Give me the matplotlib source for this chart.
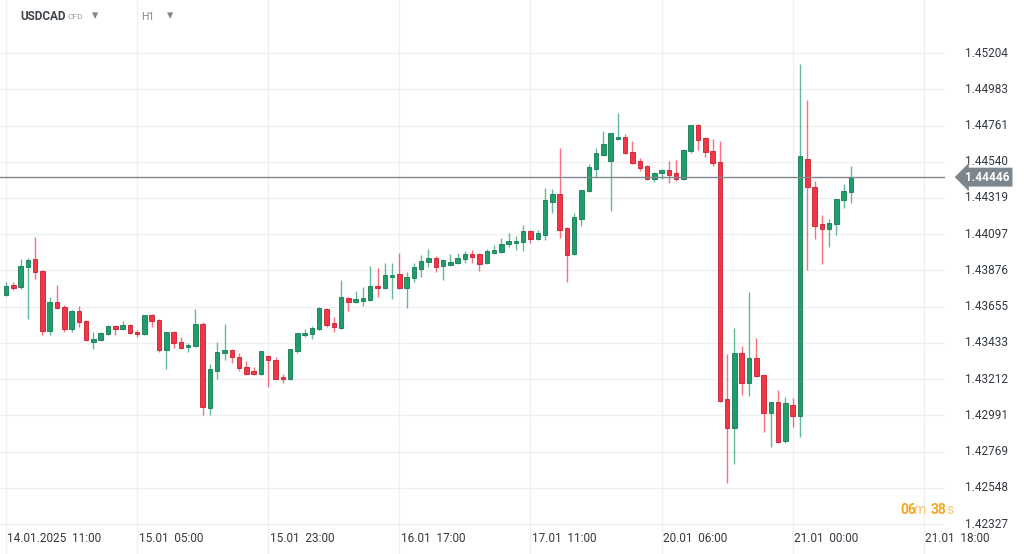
import matplotlib.pyplot as plt
import numpy as np

# hourly USDCAD candles, 14.01.2025 11:00 onward
opens = [1.43725, 1.43787, 1.43775, 1.43897, 1.43945, 1.43872, 1.43506, 1.43683, 1.43652, 1.43518,
         1.43628, 1.43567, 1.43438, 1.43451, 1.43487, 1.43536, 1.43518, 1.43542, 1.43500, 1.43487,
         1.43603, 1.43573, 1.43390, 1.43500, 1.43438, 1.43408, 1.43414, 1.43548, 1.43035, 1.43261,
         1.43371, 1.43390, 1.43347, 1.43286, 1.43261, 1.43243, 1.43353, 1.43328, 1.43224, 1.43212,
         1.43383, 1.43481, 1.43487, 1.43518, 1.43640, 1.43555, 1.43524, 1.43707, 1.43683, 1.43689,
         1.43695, 1.43781, 1.43768, 1.43836, 1.43854, 1.43768, 1.43830, 1.43884, 1.43927, 1.43952,
         1.43903, 1.43909, 1.43921, 1.43945, 1.43976, 1.43976, 1.43921, 1.43982, 1.43988, 1.44037,
         1.44043, 1.44049, 1.44116, 1.44068, 1.44092, 1.44294, 1.44343, 1.44135, 1.43976, 1.44190,
         1.44361, 1.44495, 1.44581, 1.44544, 1.44679, 1.44691, 1.44599, 1.44544, 1.44514, 1.44434,
         1.44471, 1.44489, 1.44471, 1.44434, 1.44605, 1.44764, 1.44685, 1.44605, 1.44538, 1.43090,
         1.42913, 1.43371, 1.43188, 1.43341, 1.43237, 1.43004, 1.43072, 1.42833, 1.43053, 1.42986,
         1.44556, 1.44385, 1.44159, 1.44129, 1.44159, 1.44306, 1.44355]
highs = [1.43805, 1.43805, 1.43945, 1.43951, 1.44080, 1.43878, 1.43713, 1.43787, 1.43665, 1.43634,
         1.43658, 1.43573, 1.43500, 1.43500, 1.43542, 1.43542, 1.43567, 1.43548, 1.43512, 1.43603,
         1.43610, 1.43579, 1.43500, 1.43506, 1.43469, 1.43432, 1.43640, 1.43561, 1.43304, 1.43438,
         1.43548, 1.43396, 1.43371, 1.43322, 1.43286, 1.43383, 1.43359, 1.43347, 1.43243, 1.43396,
         1.43493, 1.43518, 1.43536, 1.43652, 1.43646, 1.43591, 1.43817, 1.43713, 1.43750, 1.43775,
         1.43903, 1.43891, 1.43921, 1.43921, 1.43982, 1.43866, 1.43921, 1.43970, 1.44006, 1.43964,
         1.43945, 1.43976, 1.43982, 1.43994, 1.44000, 1.43982, 1.44006, 1.44031, 1.44074, 1.44104,
         1.44086, 1.44153, 1.44122, 1.44123, 1.44379, 1.44373, 1.44624, 1.44141, 1.44227, 1.44367,
         1.44526, 1.44624, 1.44728, 1.44715, 1.44838, 1.44709, 1.44666, 1.44563, 1.44520, 1.44477,
         1.44495, 1.44544, 1.44550, 1.44618, 1.44764, 1.44770, 1.44691, 1.44679, 1.44666, 1.43365,
         1.43524, 1.43414, 1.43744, 1.43463, 1.43243, 1.43072, 1.43145, 1.43102, 1.43096, 1.45137,
         1.44917, 1.44422, 1.44214, 1.44190, 1.44165, 1.44404, 1.44514]
lows = [1.43719, 1.43756, 1.43762, 1.43579, 1.43823, 1.43482, 1.43482, 1.43640, 1.43500, 1.43500,
        1.43530, 1.43445, 1.43396, 1.43445, 1.43482, 1.43482, 1.43512, 1.43487, 1.43469, 1.43482,
        1.43530, 1.43377, 1.43277, 1.43402, 1.43396, 1.43377, 1.43408, 1.42992, 1.42992, 1.43212,
        1.43328, 1.43310, 1.43261, 1.43237, 1.43237, 1.43237, 1.43163, 1.43206, 1.43188, 1.43206,
        1.43371, 1.43469, 1.43457, 1.43512, 1.43530, 1.43500, 1.43518, 1.43628, 1.43677, 1.43658,
        1.43689, 1.43713, 1.43762, 1.43701, 1.43762, 1.43646, 1.43805, 1.43836, 1.43897, 1.43866,
        1.43817, 1.43903, 1.43915, 1.43921, 1.43921, 1.43872, 1.43915, 1.43976, 1.43982, 1.44019,
        1.44000, 1.43994, 1.44043, 1.44062, 1.44062, 1.44227, 1.44074, 1.43805, 1.43970, 1.44147,
        1.44355, 1.44447, 1.44575, 1.44239, 1.44673, 1.44587, 1.44526, 1.44483, 1.44428, 1.44416,
        1.44434, 1.44410, 1.44422, 1.44428, 1.44593, 1.44611, 1.44569, 1.44514, 1.43072, 1.42577,
        1.42693, 1.43115, 1.43108, 1.43225, 1.42888, 1.42797, 1.42821, 1.42821, 1.42919, 1.42858,
        1.43878, 1.44068, 1.43915, 1.44019, 1.44092, 1.44257, 1.44288]
closes = [1.43781, 1.43768, 1.43903, 1.43939, 1.43866, 1.43506, 1.43683, 1.43646, 1.43518, 1.43628,
          1.43561, 1.43451, 1.43457, 1.43493, 1.43536, 1.43518, 1.43542, 1.43493, 1.43487, 1.43603,
          1.43567, 1.43390, 1.43500, 1.43432, 1.43402, 1.43420, 1.43548, 1.43041, 1.43273, 1.43377,
          1.43390, 1.43347, 1.43279, 1.43243, 1.43243, 1.43383, 1.43328, 1.43212, 1.43212, 1.43396,
          1.43493, 1.43493, 1.43524, 1.43646, 1.43542, 1.43530, 1.43713, 1.43683, 1.43701, 1.43707,
          1.43781, 1.43768, 1.43848, 1.43848, 1.43768, 1.43836, 1.43897, 1.43933, 1.43952, 1.43897,
          1.43939, 1.43927, 1.43952, 1.43976, 1.43958, 1.43915, 1.43994, 1.44000, 1.44037, 1.44055,
          1.44055, 1.44116, 1.44068, 1.44104, 1.44306, 1.44343, 1.44123, 1.43970, 1.44202, 1.44367,
          1.44508, 1.44593, 1.44648, 1.44715, 1.44691, 1.44593, 1.44532, 1.44502, 1.44434, 1.44471,
          1.44489, 1.44459, 1.44434, 1.44611, 1.44764, 1.44673, 1.44599, 1.44532, 1.43078, 1.42913,
          1.43371, 1.43188, 1.43341, 1.43231, 1.43004, 1.43072, 1.42827, 1.43066, 1.42986, 1.44575,
          1.44385, 1.44147, 1.44129, 1.44165, 1.44312, 1.44361, 1.44446]

y_ticks = [1.45204, 1.44983, 1.44761, 1.44540, 1.44319, 1.44097, 1.43876,
           1.43655, 1.43433, 1.43212, 1.42991, 1.42769, 1.42548, 1.42327]
x_labels = ['14.01.2025  11:00', '15.01  05:00', '15.01  23:00', '16.01  17:00',
            '17.01  11:00', '20.01  06:00', '21.01  00:00', '21.01  18:00']
last_price = 1.44446

GREEN = '#1e9e6a'
RED = '#f23645'
GREEN_E = '#177a52'
RED_E = '#c51f30'

plt.rcParams['font.family'] = ['Roboto', 'DejaVu Sans']
fig = plt.figure(figsize=(10.24, 5.54), dpi=100)
ax = fig.add_axes([0, 0, 945 / 1024, 1])
ax.set_xlim(-0.82, 128.9)
ax.set_ylim(1.42144, 1.45528)

x = np.arange(len(opens))
o = np.array(opens); c = np.array(closes)
up = c >= o
cols = np.where(up, GREEN, RED)
ecols = np.where(up, GREEN_E, RED_E)

for yt in y_ticks:
    ax.axhline(yt, color='#f0f0f0', lw=1, zorder=0)
for i in range(len(x_labels)):
    ax.axvline(i * 18, color='#f0f0f0', lw=1, zorder=0)

ax.vlines(x, lows, highs, colors=cols, lw=1, alpha=0.7, zorder=2)
bottoms = np.minimum(o, c)
heights = np.maximum(np.abs(c - o), 0.00003)
ax.bar(x, heights, bottom=bottoms, width=0.62, color=cols, edgecolor=ecols, lw=0.6, zorder=3)

ax.axhline(last_price, color='#7d868c', lw=1, zorder=4)

for s in ax.spines.values():
    s.set_visible(False)
ax.set_xticks([]); ax.set_yticks([])

# right price scale
for yt in y_ticks:
    ax.text(1.0 + 20 / 945, yt, f'{yt:.5f}', transform=ax.get_yaxis_transform(),
            ha='left', va='center', fontsize=8.5, color='#333a40', clip_on=False)
ax.annotate(f'{last_price:.5f}', xy=(1.0 + 13 / 945, last_price), xycoords=ax.get_yaxis_transform(),
            xytext=(1.0 + 20 / 945, last_price), textcoords=ax.get_yaxis_transform(),
            ha='left', va='center', fontsize=8.5, color='white', fontweight='bold',
            bbox=dict(boxstyle='larrow,pad=0.25', fc='#7d868c', ec='none'), annotation_clip=False)

# time labels
for i, lab in enumerate(x_labels):
    ax.text(i * 18 + 0.2, 1.42237, lab, ha='left', va='center', fontsize=8.5, color='#333a40')

fig.text(20 / 1024, 1 - 17 / 554, 'USDCAD', fontsize=8.5, fontweight='bold', color='#3c4349', va='center')
fig.text(68 / 1024, 1 - 17 / 554, 'CFD', fontsize=6, color='#9aa0a6', va='center')
fig.text(92 / 1024, 1 - 16 / 554, '▾', fontsize=9, color='#80868b', va='center', family='DejaVu Sans')
fig.text(141 / 1024, 1 - 17 / 554, 'H1', fontsize=7.5, color='#80868b', va='center')
fig.text(167 / 1024, 1 - 16 / 554, '▾', fontsize=9, color='#80868b', va='center', family='DejaVu Sans')

fig.text(900 / 1024, 1 - 510 / 554, '06', fontsize=10, color='#f5a623', va='center', fontweight='bold')
fig.text(914 / 1024, 1 - 510 / 554, 'm', fontsize=10, color='#f8c77a', va='center')
fig.text(931 / 1024, 1 - 510 / 554, '38', fontsize=10, color='#f5a623', va='center', fontweight='bold')
fig.text(946 / 1024, 1 - 510 / 554, 's', fontsize=10, color='#f8c77a', va='center')

fig.savefig('out.png', dpi=100, facecolor='white')
